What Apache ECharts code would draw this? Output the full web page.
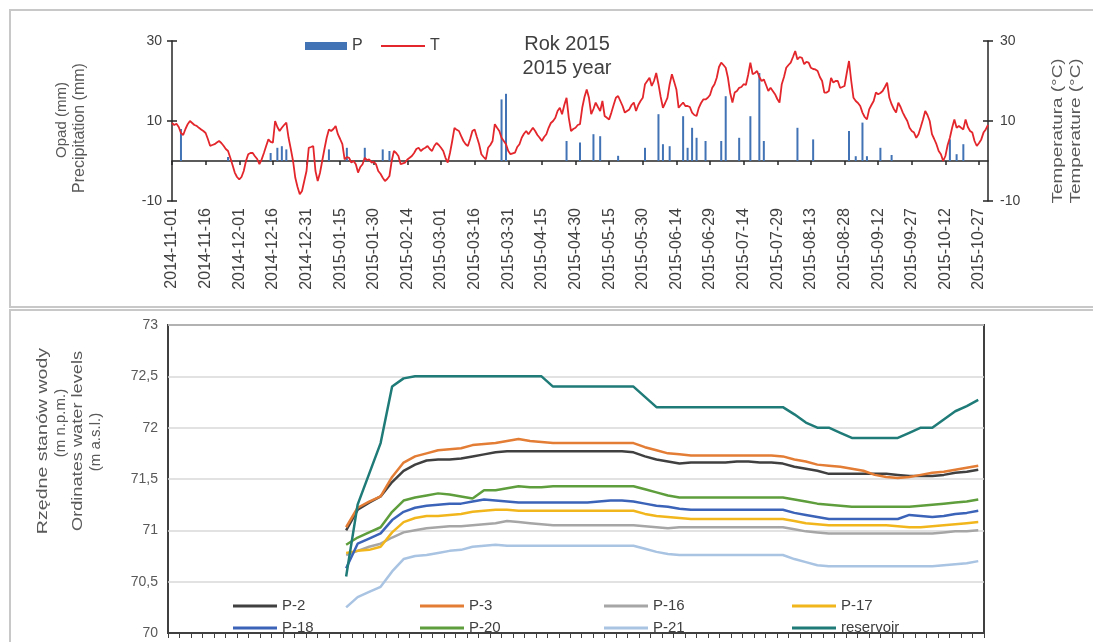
<!DOCTYPE html>
<html>
<head>
<meta charset="utf-8">
<script src="https://cdn.jsdelivr.net/npm/echarts@6/dist/echarts.min.js"></script>
<style>
html,body{margin:0;padding:0;background:#fff;}
#chart{width:1093px;height:642px;}
</style>
</head>
<body>
<div id="chart"></div>
<script>
// ---------- top panel: daily precipitation (P) and temperature (T), 2014-11-01 .. 2015-10-31
const startDate = [2014, 10, 1];
const dayCount = 365;
const days = [];
for (let i = 0; i < dayCount; i++) {
  const d = new Date(Date.UTC(startDate[0], startDate[1], startDate[2] + i));
  days.push(d.toISOString().slice(0, 10));
}
const temperature = [
  9.5, 9, 9.3, 8.5, 7, 6.5, 8, 9.2, 10, 9.5,
  9, 8.8, 8.3, 7.9, 7.5, 7, 5.5, 3.8, 4, 4.2,
  4.6, 5, 4.5, 3.8, 3, 2.5, 0.8, -1, -2.9, -4,
  -4.6, -4, -2.5, 0, 1.7, 2, 2, 1.2, 0.5, -0.8,
  0.4, 2, 3.75, 5.4, 4.8, 4.6, 10, 8.5, 7.5, 8.3,
  9, 9.6, 5.8, 3, 0, -4.2, -6.5, -8.3, -7.5, -5,
  -2.5, 3.3, 3.5, 3.75, -2.5, -5, -3, 0, 3, 5.8,
  7.9, 7.5, 8, 8.75, 6.7, 5.5, 4.2, 0.4, 1, 0.8,
  -0.4, 0, -0.8, -2.9, -1.5, -0.8, 0.8, 0.2, 0.4, -0.4,
  -0.2, -0.8, -2.5, -3.2, -4.2, -5, -4.5, -3.75, 0, 2.5,
  2, 1.25, -0.8, -0.6, -0.4, 0.4, 0.8, 1.25, 2, 3,
  3.3, 2.5, 3, 3.3, 3.75, 3, 2.5, 3.75, 4.5, 4,
  3.3, 2.5, 0.8, -0.4, 2, 5, 8.3, 7.8, 7.5, 6.2,
  5, 4.2, 3.75, 5.5, 7.5, 7.9, 6, 4.2, 1.7, 1,
  0.4, 3.3, 4, 5, 9.2, 8.3, 7.5, 5.8, 5, 4.2,
  2.5, 1.7, 1.9, 2.1, 3.5, 4.2, 5.8, 6.8, 7.5, 6.7,
  7.5, 8.3, 7.5, 6.5, 5.8, 5, 6, 6.7, 8.3, 9.5,
  10, 10.8, 12.5, 13.3, 11.7, 14, 15.8, 10.8, 7.5, 8,
  8.3, 9, 9.2, 13.3, 16, 17.9, 15.8, 11.7, 13, 14.6,
  13.5, 12.5, 15, 11.25, 10.8, 10.4, 12.1, 14, 15.8, 16.25,
  15, 13.75, 12.1, 12.5, 12.9, 14, 14.6, 12.5, 14, 15,
  15.8, 19.2, 20, 20.8, 18.75, 20, 22, 19.2, 16, 13.3,
  14.5, 15.8, 19.2, 21.7, 19.8, 17.9, 13.3, 14, 14.6, 13.75,
  13.75, 13.5, 12.1, 11.5, 11.25, 13.3, 14.5, 15.4, 15.4, 15.8,
  16.5, 18.3, 19.2, 20.8, 23.5, 24.6, 24, 23.3, 20.8, 17,
  14.6, 17.1, 17.5, 18.3, 18.5, 19.2, 19, 21.5, 24.6, 21.7,
  22, 22.5, 21, 20, 20.4, 19, 17.5, 18.3, 17.5, 16.7,
  15.5, 14.6, 19.2, 21, 23.3, 24, 24.6, 26, 27.5, 25.4,
  26, 25.8, 24.2, 24.8, 24.6, 23.3, 23, 22.9, 22.5, 21,
  20, 17.1, 17.1, 17.5, 20.8, 19.6, 20, 20, 18.3, 18.5,
  18.75, 22, 25, 20, 15.8, 15, 14.5, 13.75, 12.1, 11,
  10.4, 12.9, 14, 15, 17.1, 16.7, 17, 17.5, 18.5, 19.6,
  15.8, 14.2, 13, 12.1, 14.6, 13.5, 12.1, 11, 10, 8.3,
  7.5, 7.1, 5.8, 6.7, 8.5, 10.4, 12.5, 11.5, 10, 6.7,
  5.5, 4.2, 2.5, 1.7, 0, 1.25, 4, 5.8, 8.3, 10.4,
  8.3, 8.75, 8.3, 7.9, 10.4, 8.5, 7.5, 7.1, 5, 3.75,
  4.5, 5.4, 7.1, 7.9, 9
];
// rainy days: day index (from 2014-11-01) and precipitation in mm
const precipDayIndex = [4, 25, 44, 47, 49, 51, 70, 78, 86, 94, 97, 147, 149, 176, 182, 188, 191, 199, 211, 217, 219, 222, 228, 230, 232, 234, 238, 245, 247, 253, 258, 262, 264, 279, 286, 302, 305, 308, 310, 316, 321, 347, 350, 353];
const precipValues   = [8, 1, 2, 3.3, 3.7, 2.9, 2.9, 3.3, 3.3, 2.9, 2.5, 15.4, 16.8, 5, 4.6, 6.7, 6.2, 1.3, 3.3, 11.7, 4.2, 3.7, 11.2, 3.3, 8.3, 5.8, 5, 5, 16.2, 5.8, 11.2, 22, 5, 8.3, 5.4, 7.5, 1.2, 9.6, 1.2, 3.3, 1.5, 5.4, 1.7, 4.2];

// ---------- bottom panel: water levels (m a.s.l.)
const levelCategoryCount = 71;
const levelCategories = [];
for (let i = 1; i <= levelCategoryCount; i++) levelCategories.push(String(i));
const levelStart = 15; // first category with measurements
const levelNames = ['P-2', 'P-3', 'P-16', 'P-17', 'P-18', 'P-20', 'P-21', 'reservoir'];
const p2 = [71.00,71.20,71.27,71.33,71.47,71.58,71.64,71.68,71.69,71.69,
  71.70,71.72,71.74,71.76,71.77,71.77,71.77,71.77,71.77,71.77,
  71.77,71.77,71.77,71.77,71.77,71.76,71.72,71.69,71.67,71.65,
  71.66,71.66,71.66,71.66,71.67,71.67,71.66,71.66,71.65,71.62,
  71.60,71.58,71.55,71.55,71.55,71.55,71.55,71.55,71.54,71.53,
  71.53,71.53,71.54,71.56,71.57,71.59];
const p3 = [71.03,71.22,71.28,71.33,71.52,71.66,71.72,71.75,71.78,71.79,
  71.80,71.83,71.84,71.85,71.87,71.89,71.87,71.86,71.85,71.85,
  71.85,71.85,71.85,71.85,71.85,71.85,71.81,71.78,71.75,71.74,
  71.73,71.73,71.73,71.73,71.73,71.73,71.73,71.73,71.72,71.69,
  71.67,71.64,71.63,71.62,71.60,71.58,71.54,71.52,71.51,71.52,
  71.54,71.56,71.57,71.59,71.61,71.63];
const p16 = [70.76,70.80,70.84,70.87,70.93,70.98,71.00,71.02,71.03,71.04,
  71.04,71.05,71.06,71.07,71.09,71.08,71.07,71.06,71.05,71.05,
  71.05,71.05,71.05,71.05,71.05,71.05,71.04,71.03,71.02,71.03,
  71.03,71.03,71.03,71.03,71.03,71.03,71.03,71.03,71.03,71.01,
  70.99,70.98,70.97,70.97,70.97,70.97,70.97,70.97,70.97,70.97,
  70.97,70.97,70.98,70.99,70.99,71.00];
const p17 = [70.78,70.80,70.81,70.84,70.98,71.08,71.12,71.14,71.14,71.15,
  71.16,71.18,71.19,71.20,71.20,71.19,71.19,71.19,71.19,71.19,
  71.19,71.19,71.19,71.19,71.19,71.19,71.16,71.14,71.13,71.12,
  71.11,71.11,71.11,71.11,71.11,71.11,71.11,71.11,71.11,71.09,
  71.07,71.06,71.05,71.05,71.05,71.05,71.05,71.05,71.04,71.03,
  71.03,71.04,71.05,71.06,71.07,71.08];
const p18 = [70.63,70.87,70.92,70.97,71.10,71.18,71.22,71.24,71.25,71.26,
  71.26,71.28,71.30,71.29,71.28,71.27,71.27,71.27,71.27,71.27,
  71.27,71.27,71.28,71.29,71.29,71.28,71.26,71.24,71.23,71.21,
  71.20,71.20,71.20,71.20,71.20,71.20,71.20,71.20,71.20,71.17,
  71.15,71.13,71.11,71.11,71.11,71.11,71.11,71.11,71.11,71.15,
  71.14,71.13,71.14,71.16,71.17,71.19];
const p20 = [70.86,70.93,70.98,71.03,71.18,71.29,71.32,71.34,71.36,71.35,
  71.33,71.31,71.39,71.39,71.41,71.43,71.42,71.42,71.43,71.43,
  71.43,71.43,71.43,71.43,71.43,71.43,71.40,71.37,71.34,71.32,
  71.32,71.32,71.32,71.32,71.32,71.32,71.32,71.32,71.32,71.30,
  71.28,71.26,71.25,71.24,71.23,71.23,71.23,71.23,71.23,71.23,
  71.24,71.25,71.26,71.27,71.28,71.30];
const p21 = [70.25,70.35,70.40,70.45,70.60,70.72,70.75,70.76,70.78,70.80,
  70.81,70.84,70.85,70.86,70.85,70.85,70.85,70.85,70.85,70.85,
  70.85,70.85,70.85,70.85,70.85,70.85,70.82,70.79,70.77,70.76,
  70.76,70.76,70.76,70.76,70.76,70.76,70.76,70.76,70.76,70.72,
  70.69,70.66,70.65,70.65,70.65,70.65,70.65,70.65,70.65,70.65,
  70.65,70.65,70.66,70.67,70.68,70.70];
const reservoir = [70.55,71.25,71.55,71.85,72.40,72.48,72.50,72.50,72.50,72.50,
  72.50,72.50,72.50,72.50,72.50,72.50,72.50,72.50,72.40,72.40,
  72.40,72.40,72.40,72.40,72.40,72.40,72.30,72.20,72.20,72.20,
  72.20,72.20,72.20,72.20,72.20,72.20,72.20,72.20,72.20,72.13,
  72.05,72.00,72.00,71.95,71.90,71.90,71.90,71.90,71.90,71.95,
  72.00,72.00,72.08,72.16,72.21,72.27];
const levelTicks = [70, 73, 0.5];
const tempTicks = [-10, 30, 20];

// ---------- build
const FONT = "'Liberation Sans', Arial, sans-serif";
const precipData = days.map(() => null);
precipDayIndex.forEach((d, k) => { precipData[d] = precipValues[k]; });

const levelSeriesValues = [p2, p3, p16, p17, p18, p20, p21, reservoir];
const levelColors = ['#404040', '#e37c34', '#a6a6a6', '#f2b61d', '#3b63b8', '#5f9e3c', '#a9c3e3', '#1f7b78'];
const pad = (arr) => Array(levelStart).fill(null).concat(arr);

const levelSeries = levelNames.map((name, k) => ({
  name, type: 'line', xAxisIndex: 2, yAxisIndex: 2,
  data: pad(levelSeriesValues[k]),
  showSymbol: false, symbol: 'none', smooth: false,
  lineStyle: { color: levelColors[k], width: 2.5 },
  itemStyle: { color: levelColors[k] },
  z: name === 'reservoir' ? 3 : 2
}));

const chart = echarts.init(document.getElementById('chart'), null, { renderer: 'canvas' });
const commaFmt = (v) => String(v).replace('.', ',');
const legendText = { fontFamily: FONT, fontSize: 15, color: '#404040', lineHeight: 16 };
const colLegend = (left, names) => ({
  left, top: 598, orient: 'vertical', padding: 0, itemGap: 6, itemWidth: 44, itemHeight: 3,
  icon: 'rect', data: names, textStyle: legendText
});
const innerTickAxis = (position) => ({
  type: 'value', gridIndex: 0, min: tempTicks[0], max: tempTicks[1], interval: tempTicks[2], position,
  axisLine: { show: false }, axisLabel: { show: false }, splitLine: { show: false },
  axisTick: { show: true, inside: true, length: 5, lineStyle: { color: '#262626', width: 1.5 } }
});

chart.setOption({
  animation: false,
  backgroundColor: '#fff',
  textStyle: { fontFamily: FONT },
  grid: [
    { left: 172, right: 105, top: 41, height: 160, containLabel: false },
    { left: 168, right: 109, top: 325, height: 308, containLabel: false, show: true, borderColor: '#404040', borderWidth: 2, backgroundColor: 'transparent' }
  ],
  legend: [
    { left: 305, top: 38, padding: 0, itemWidth: 42, itemHeight: 8, icon: 'rect',
      data: ['P'], textStyle: { fontFamily: FONT, fontSize: 16, color: '#404040' } },
    { left: 381, top: 38, padding: 0, itemWidth: 44, itemHeight: 2, icon: 'rect',
      data: ['T'], textStyle: { fontFamily: FONT, fontSize: 16, color: '#404040' } },
    colLegend(233, ['P-2', 'P-18']),
    colLegend(420, ['P-3', 'P-20']),
    colLegend(604, ['P-16', 'P-21']),
    colLegend(792, ['P-17', 'reservoir'])
  ],
  xAxis: [
    { type: 'category', gridIndex: 0, data: days, boundaryGap: false, position: 'bottom',
      axisLine: { show: false, onZero: false }, axisTick: { show: false },
      axisLabel: { interval: 14, rotate: 90, margin: 7, fontSize: 16, color: '#404040', fontFamily: FONT },
      splitLine: { show: false } },
    { type: 'category', gridIndex: 0, data: days, boundaryGap: false, position: 'bottom',
      axisLine: { show: true, onZero: true, lineStyle: { color: '#262626', width: 1.5 } },
      axisTick: { show: true, interval: 14, length: 4, inside: false, lineStyle: { color: '#262626', width: 1.5 } },
      axisLabel: { show: false }, splitLine: { show: false } },
    { type: 'category', gridIndex: 1, data: levelCategories, boundaryGap: true, position: 'bottom',
      axisLine: { show: true, lineStyle: { color: '#404040', width: 2 } },
      axisTick: { show: true, interval: 0, length: 5, lineStyle: { color: '#404040', width: 1 } },
      axisLabel: { show: false }, splitLine: { show: false } }
  ],
  yAxis: [
    { type: 'value', gridIndex: 0, min: tempTicks[0], max: tempTicks[1], interval: tempTicks[2], position: 'left',
      axisLine: { show: true, lineStyle: { color: '#262626', width: 1.5 } },
      axisTick: { show: true, length: 5, lineStyle: { color: '#262626', width: 1.5 } },
      axisLabel: { margin: 10, fontSize: 14, color: '#404040', fontFamily: FONT },
      splitLine: { show: false } },
    { type: 'value', gridIndex: 0, min: tempTicks[0], max: tempTicks[1], interval: tempTicks[2], position: 'right',
      axisLine: { show: true, lineStyle: { color: '#262626', width: 1.5 } },
      axisTick: { show: true, length: 5, lineStyle: { color: '#262626', width: 1.5 } },
      axisLabel: { margin: 12, fontSize: 14, color: '#404040', fontFamily: FONT },
      splitLine: { show: false } },
    { type: 'value', gridIndex: 1, min: levelTicks[0], max: levelTicks[1], interval: levelTicks[2],
      axisLine: { show: false }, axisTick: { show: false },
      axisLabel: { margin: 10, fontSize: 14, color: '#595959', fontFamily: FONT, formatter: commaFmt },
      splitLine: { show: true, lineStyle: { color: '#d9d9d9', width: 1.5 } } },
    innerTickAxis('left'),
    innerTickAxis('right')
  ],
  series: [
    { name: 'P', type: 'bar', xAxisIndex: 1, yAxisIndex: 0, data: precipData, barWidth: 2,
      itemStyle: { color: '#4173b5' }, z: 2 },
    { name: 'T', type: 'line', xAxisIndex: 1, yAxisIndex: 1, data: temperature,
      showSymbol: false, symbol: 'none', lineStyle: { color: '#e3262b', width: 1.8 },
      itemStyle: { color: '#e3262b' }, z: 3 }
  ].concat(levelSeries),
  graphic: [
    { type: 'rect', shape: { x: 10, y: 10, width: 1100, height: 297 }, style: { fill: 'none', stroke: '#c8c8c8', lineWidth: 2 }, z: -1 },
    { type: 'rect', shape: { x: 10, y: 310, width: 1100, height: 345 }, style: { fill: 'none', stroke: '#c8c8c8', lineWidth: 2 }, z: -1 },
    { type: 'text', x: 567, y: 44, style: { text: 'Rok 2015', fill: '#404040', font: '20px ' + FONT, textAlign: 'center', textVerticalAlign: 'middle' } },
    { type: 'text', x: 567, y: 68, style: { text: '2015 year', fill: '#404040', font: '20px ' + FONT, textAlign: 'center', textVerticalAlign: 'middle' } },
    { type: 'text', x: 62, y: 120, rotation: Math.PI / 2, style: { text: 'Opad (mm)', font: '15px ' + FONT, fill: '#595959', textAlign: 'center', textVerticalAlign: 'middle' } },
    { type: 'text', x: 80, y: 128, rotation: Math.PI / 2, style: { text: 'Precipitation (mm)', font: '16px ' + FONT, fill: '#595959', textAlign: 'center', textVerticalAlign: 'middle' } },
    { type: 'text', x: 1058, y: 131, rotation: Math.PI / 2, scaleX: 1.35, style: { text: 'Temperatura (°C)', font: '14px ' + FONT, fill: '#595959', textAlign: 'center', textVerticalAlign: 'middle' } },
    { type: 'text', x: 1076, y: 131, rotation: Math.PI / 2, scaleX: 1.35, style: { text: 'Temperature (°C)', font: '14px ' + FONT, fill: '#595959', textAlign: 'center', textVerticalAlign: 'middle' } },
    { type: 'text', x: 43, y: 441, rotation: Math.PI / 2, scaleX: 1.4, style: { text: 'Rzędne stanów wody', font: '14px ' + FONT, fill: '#595959', textAlign: 'center', textVerticalAlign: 'middle' } },
    { type: 'text', x: 61, y: 423, rotation: Math.PI / 2, style: { text: '(m n.p.m.)', font: '15px ' + FONT, fill: '#595959', textAlign: 'center', textVerticalAlign: 'middle' } },
    { type: 'text', x: 78, y: 441, rotation: Math.PI / 2, scaleX: 1.3, style: { text: 'Ordinates water levels', font: '14px ' + FONT, fill: '#595959', textAlign: 'center', textVerticalAlign: 'middle' } },
    { type: 'text', x: 96, y: 442, rotation: Math.PI / 2, style: { text: '(m a.s.l.)', font: '15px ' + FONT, fill: '#595959', textAlign: 'center', textVerticalAlign: 'middle' } }
  ]
});
</script>
</body>
</html>
